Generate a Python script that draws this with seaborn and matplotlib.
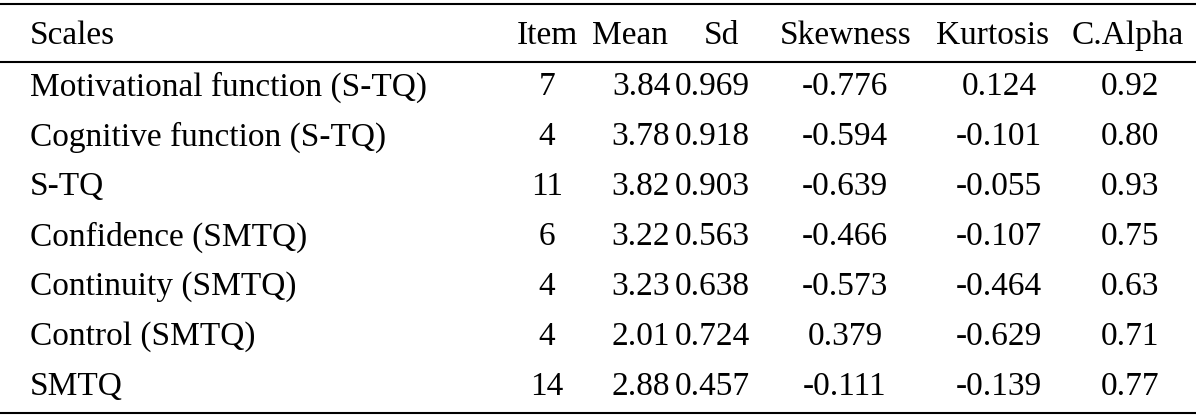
import matplotlib
matplotlib.use("Agg")
import matplotlib.pyplot as plt
import seaborn as sns

sns.set_theme(style="white")
plt.rcParams['font.family'] = ['Liberation Serif', 'DejaVu Serif']

headers = ["Scales", "Item", "Mean", "Sd", "Skewness", "Kurtosis", "C.Alpha"]
scales = ["Motivational function (S-TQ)", "Cognitive function (S-TQ)", "S-TQ",
          "Confidence (SMTQ)", "Continuity (SMTQ)", "Control (SMTQ)", "SMTQ"]
items = ["7", "4", "11", "6", "4", "4", "14"]
means = ["3.84", "3.78", "3.82", "3.22", "3.23", "2.01", "2.88"]
sds = ["0.969", "0.918", "0.903", "0.563", "0.638", "0.724", "0.457"]
skews = ["-0.776", "-0.594", "-0.639", "-0.466", "-0.573", "0.379", "-0.111"]
kurts = ["0.124", "-0.101", "-0.055", "-0.107", "-0.464", "-0.629", "-0.139"]
alphas = ["0.92", "0.80", "0.93", "0.75", "0.63", "0.71", "0.77"]

W, H = 1196, 420
fig = plt.figure(figsize=(W / 100, H / 100), dpi=100)
ax = fig.add_axes([0, 0, 1, 1])
ax.set_xlim(0, W)
ax.set_ylim(H, 0)
ax.axis("off")

fs = 24
hdr_x = [30, 547, 630, 721, 846, 993, 1128]
val_x = [30, 547, 641, 712, 845, 999, 1130]
ha_list = ["left", "center", "center", "center", "center", "center", "center"]

for x, h, ha in zip(hdr_x, headers, ha_list):
    ax.text(x, 36, h, ha=ha, va="center", fontsize=fs, color="black")

cols = [scales, items, means, sds, skews, kurts, alphas]
for i in range(len(scales)):
    y = 87 + i * 50
    for x, col, ha in zip(val_x, cols, ha_list):
        ax.text(x, y, col[i], ha=ha, va="center", fontsize=fs, color="black")

ax.plot([0, W], [4, 4], color="black", lw=1.5)
ax.plot([0, W], [62, 62], color="black", lw=1.5)
ax.plot([0, W], [413, 413], color="black", lw=1.5)

fig.savefig("out.png", dpi=100, facecolor="white")
